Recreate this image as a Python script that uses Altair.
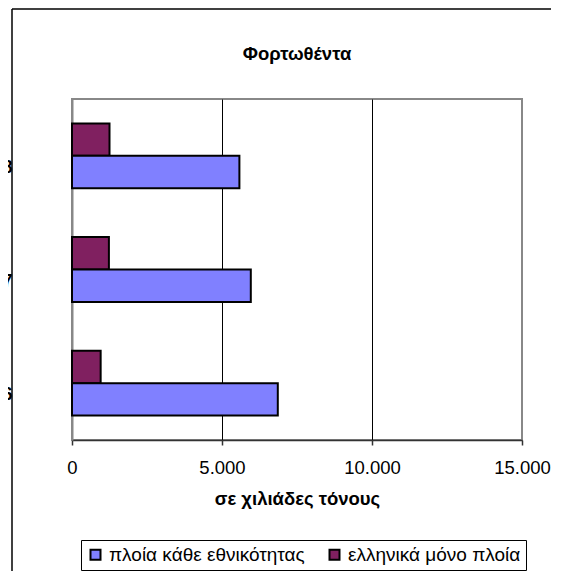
import altair as alt
import pandas as pd

# ---- data ----
years = ["2008", "2007", "2006"]
series_all = "πλοία κάθε εθνικότητας"
series_gr = "ελληνικά μόνο πλοία"
all_vals = [5580, 5960, 6860]
gr_vals = [1250, 1230, 955]
x_ticks = [0, 5000, 10000, 15000]

rows = []
for y, a, g in zip(years, all_vals, gr_vals):
    rows.append({"year": y, "series": series_gr, "value": g})
    rows.append({"year": y, "series": series_all, "value": a})
df = pd.DataFrame(rows)

FONT = "Liberation Sans"

one = alt.Data(values=[{"k": 1}])
frame_left = alt.Chart(one).mark_rule(stroke="black", strokeWidth=1.5).encode(
    x=alt.value(-60), y=alt.value(-90), y2=alt.value(472),
)
frame_top = alt.Chart(one).mark_rule(stroke="black", strokeWidth=1.5).encode(
    x=alt.value(-60), x2=alt.value(479), y=alt.value(-90),
)

bars = alt.Chart(df).mark_bar(stroke="black", strokeWidth=2).encode(
    x=alt.X(
        "value:Q",
        scale=alt.Scale(domain=[0, 15000], nice=False),
        axis=alt.Axis(
            values=x_ticks, format=",.0f", title="σε χιλιάδες τόνους",
            titleFont=FONT, titleFontSize=18.5, titleFontWeight="bold",
            titleColor="black", titlePadding=13,
            labelFont=FONT, labelFontSize=18.5, labelColor="black",
            labelPadding=13, labelFlush=False, labelOverlap=False,
            tickSize=5, tickColor="#333", tickWidth=1.5,
            domainColor="#333", domainWidth=1.5,
            grid=True,
            gridColor={"condition": {"test": "datum.value === 0 || datum.value === 15000",
                                     "value": "#888"}, "value": "black"},
            gridWidth=1,
        ),
    ),
    y=alt.Y(
        "year:N", sort=years,
        scale=alt.Scale(paddingInner=0.43, paddingOuter=0.215),
        axis=alt.Axis(
            title=None, labelFont=FONT, labelFontSize=18, labelFontWeight="bold",
            labelColor="black", labelPadding=60, ticks=False, tickSize=0,
            domainColor="#888", domainWidth=2, labelOffset=12,
        ),
    ),
    yOffset=alt.YOffset(
        "series:N", sort=[series_gr, series_all],
        scale=alt.Scale(paddingInner=0, paddingOuter=0),
    ),
    color=alt.Color(
        "series:N",
        scale=alt.Scale(domain=[series_all, series_gr], range=["#8080FF", "#802060"]),
        legend=alt.Legend(
            title=None, orient="none", legendX=9, legendY=441, direction="horizontal",
            symbolType="square", symbolSize=100, symbolStrokeColor="black",
            symbolStrokeWidth=2, labelFont=FONT, labelFontSize=19, labelColor="black",
            strokeColor="black", padding=5, columnPadding=20, labelOffset=4,
            fillColor="white", labelLimit=400,
            labelExpr="datum.label == '" + series_gr + "' ? datum.label + '\u00a0\u00a0\u00a0' : datum.label",
        ),
    ),
)

chart = alt.layer(frame_left, frame_top, bars).properties(
    width=450,
    height=341,
    padding={"left": 64, "top": 91, "right": 30, "bottom": 132},
    autosize=alt.AutoSizeParams(type="none"),
    title=alt.Title(
        "Φορτωθέντα", font=FONT, fontSize=18.5, fontWeight="bold", color="black",
        anchor="middle", frame="group", offset=0, baseline="alphabetic", dy=70,
    ),
).configure(
    locale={"number": {"decimal": ",", "thousands": ".", "grouping": [3],
                       "currency": ["", " €"]}},
).configure_view(stroke="#888", strokeWidth=2)

chart.save("out.html", embed_options={"renderer": "svg", "actions": False})
